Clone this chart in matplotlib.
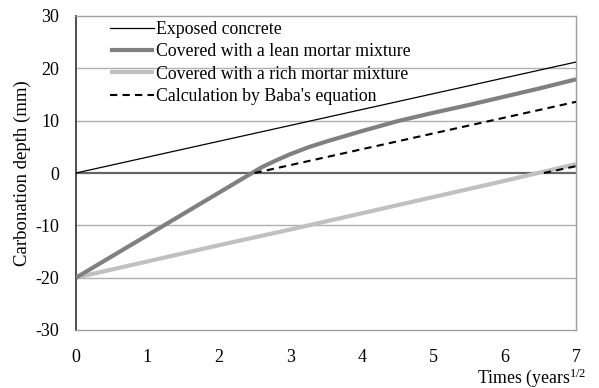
import matplotlib
matplotlib.use("Agg")
import matplotlib.pyplot as plt
import numpy as np

plt.rcParams['font.family'] = ['Liberation Serif', 'DejaVu Serif']
plt.rcParams['mathtext.fontset'] = 'custom'
plt.rcParams['mathtext.rm'] = 'Liberation Serif'
plt.rcParams['mathtext.it'] = 'Liberation Serif:italic'
plt.rcParams['axes.unicode_minus'] = False

# Data
exposed_x = [0, 1, 2, 3, 4, 5, 6, 7]
exposed_y = [0, 3.03, 6.06, 9.09, 12.12, 15.15, 18.18, 21.2]

lean_x = [0, 2.6, 2.8, 3.0, 3.25, 3.5, 3.75, 4.0, 4.5, 5.0, 5.5, 6.0, 6.5, 7.0]
lean_y = [-20, 1.1, 2.4, 3.6, 4.9, 6.0, 7.0, 8.0, 9.9, 11.5, 13.0, 14.6, 16.2, 17.9]

rich_x = [0, 1, 2, 3, 4, 5, 6, 7]
rich_y = [-20, -16.9, -13.8, -10.8, -7.7, -4.6, -1.5, 1.7]

baba_x = [2.5, 7.0, np.nan, 6.55, 7.0]
baba_y = [0, 13.6, np.nan, 0, 1.3]

labels = ["Exposed concrete",
          "Covered with a lean mortar mixture",
          "Covered with a rich mortar mixture",
          "Calculation by Baba's equation"]
xticks = [0, 1, 2, 3, 4, 5, 6, 7]
yticks = [-30, -20, -10, 0, 10, 20, 30]

fig = plt.figure(figsize=(5.99, 3.88), dpi=100)
ax = fig.add_axes([76/599, 58/388, 500/599, 314/388])

for yv in [-20, -10, 10, 20]:
    ax.axhline(yv, color='#b0b0b0', lw=1.0, zorder=1)
ax.axhline(0, color='#666666', lw=1.6, zorder=1.5)

ax.plot(exposed_x, exposed_y, color='black', lw=0.9, label=labels[0], zorder=3)
ax.plot(lean_x, lean_y, color='#808080', lw=3.0, label=labels[1], zorder=3, solid_capstyle='butt')
ax.plot(rich_x, rich_y, color='#c0c0c0', lw=3.0, label=labels[2], zorder=2.5, solid_capstyle='butt')
ax.plot(baba_x, baba_y, color='black', lw=1.5, ls=(0, (3.5, 2.5)), label=labels[3], zorder=4)

ax.set_xlim(0, 7)
ax.set_ylim(-30, 30)
ax.set_xticks(xticks)
ax.set_yticks(yticks)
ax.tick_params(axis='both', length=0, labelsize=13)
ax.tick_params(axis='x', pad=14)
ax.tick_params(axis='y', pad=12)

for s in ['top', 'right', 'bottom']:
    ax.spines[s].set_color('#a0a0a0')
    ax.spines[s].set_linewidth(1.0)
ax.spines['left'].set_color('#404040')
ax.spines['left'].set_linewidth(1.3)

ax.set_ylabel("Carbonation depth (mm)", fontsize=13.5, labelpad=3)
fig.text(477/599, (388-383)/388, r"Times (years$^{1/2}$", fontsize=12.8, ha='left', va='baseline')

leg = ax.legend(loc='upper left', bbox_to_anchor=(110/599, (388-21)/388), bbox_transform=fig.transFigure,
                frameon=False, fontsize=12.8, handlelength=2.45, handletextpad=0.15,
                labelspacing=0.3, borderpad=0, borderaxespad=0)

fig.savefig("out.png", dpi=100)
